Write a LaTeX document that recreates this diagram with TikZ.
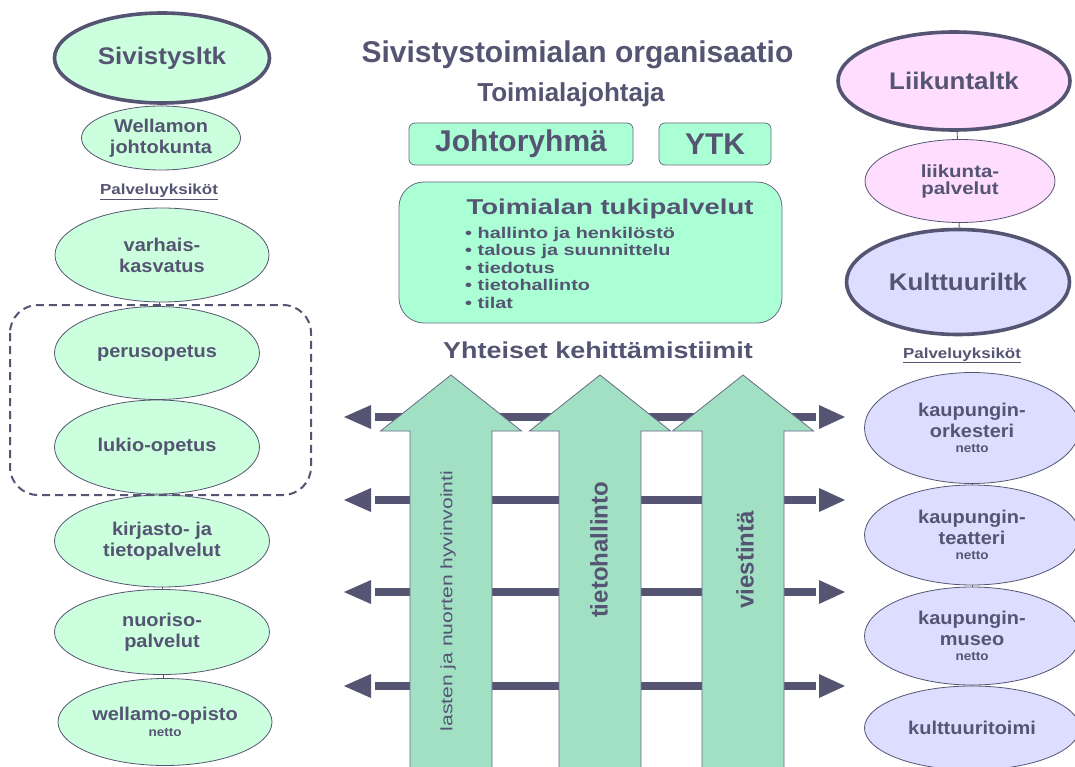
\documentclass[tikz,border=0pt]{standalone}
\usepackage{fontspec}
\setmainfont{Liberation Sans}
\newfontfamily\wideI{Liberation Sans}[FakeStretch=1.08]
\newfontfamily\wideII{Liberation Sans}[FakeStretch=1.17]
\newfontfamily\wideIII{Liberation Sans}[FakeStretch=1.28]
\usetikzlibrary{shapes.geometric,backgrounds}
\newcommand\setfs[2]{\fontsize{#1}{#2}\selectfont}

\definecolor{txt}{RGB}{85,85,115}
\definecolor{edge}{RGB}{85,85,115}
\definecolor{leftfill}{RGB}{204,255,221}
\definecolor{pinkfill}{RGB}{255,221,255}
\definecolor{lavfill}{RGB}{221,221,255}
\definecolor{boxfill}{RGB}{170,255,212}
\definecolor{arrowfill}{RGB}{162,224,196}
\definecolor{arrowedge}{RGB}{105,105,135}

\begin{document}
\begin{tikzpicture}[x=1pt,y=-1pt,
  every node/.style={text=txt, inner sep=0pt},
  ell/.style={ellipse, draw=edge, line width=0.8pt, align=center,
    font=\wideI\bfseries\setfs{18.5}{21}},
  headell/.style={ellipse, draw=edge, line width=3.6pt,
    font=\wideI\bfseries\setfs{24}{28}},
  grn/.style={fill=leftfill},
  pnk/.style={fill=pinkfill},
  lav/.style={fill=lavfill},
  box/.style={draw=arrowedge, line width=0.8pt, fill=boxfill, rounded corners=6pt},
  link/.style={draw=edge, line width=0.8pt},
  bar/.style={draw=edge, line width=8pt},
  tip/.style={fill=edge},
  blockarrow/.style={fill=arrowfill, draw=arrowedge, line width=0.8pt},
  unitlabel/.style={font=\wideII\bfseries\setfs{14.5}{17}},
  small/.style={font=\wideI\bfseries\setfs{12.5}{14}}
]
\useasboundingbox (0,0) rectangle (1075,767);
\clip (0,0) rectangle (1075,767);

% ---------- horizontal development-team arrows ----------
\foreach \y [count=\i] in {417,500,592,686} {
  \coordinate (hl\i) at (375,\y);
  \coordinate (hr\i) at (816,\y);
  \draw[bar] (hl\i) -- (hr\i);
  \fill[tip, shift={(hl\i)}] (-31,0) -- (-4,-12) -- (-4,12) -- cycle;
  \fill[tip, shift={(hr\i)}] (29,0) -- (3,-12) -- (3,12) -- cycle;
}

% ---------- vertical block arrows ----------
\foreach \cx in {451,600,743} {
  \filldraw[blockarrow] (\cx-41,780) -- (\cx-41,431) -- (\cx-70.5,431)
     -- (\cx,375) -- (\cx+70.5,431) -- (\cx+41,431) -- (\cx+41,780);
}
\node[rotate=90, font=\wideIII\setfs{16.5}{18}] (lasten) at (448,601) {lasten ja nuorten hyvinvointi};
\node[rotate=90, font=\bfseries\setfs{24}{26}] (tieto) at (599,550) {tietohallinto};
\node[rotate=90, font=\bfseries\setfs{24}{26}] (viest) at (745,560) {viestintä};

% ---------- centre headings and boxes ----------
\node[anchor=base, font=\bfseries\setfs{30}{34}] (title) at (577.5,63) {Sivistystoimialan organisaatio};
\node[anchor=base, font=\bfseries\setfs{26}{30}] (toim) at (571,102) {Toimialajohtaja};
\node[box, minimum width=224, minimum height=42, font=\bfseries\setfs{30}{34}] (johto) at (521,144) {Johtoryhmä};
\node[box, minimum width=112, minimum height=42, font=\bfseries\setfs{30}{34}] (ytk) at (715,144) {YTK};
\node[box, rounded corners=25pt, minimum width=383, minimum height=141] (tuki) at (590.5,252.5) {};
\node[anchor=base, font=\wideIII\bfseries\setfs{21.5}{24}] (tukititle) at (610,215) {Toimialan tukipalvelut};
\foreach \t [count=\k from 0] in {hallinto ja henkilöstö, talous ja suunnittelu, tiedotus, tietohallinto, tilat} {
  \node[anchor=base west, font=\wideIII\bfseries\setfs{15.5}{17}] (bullet\k) at (465,238+17.5*\k) {•\ \t};
}
\node[anchor=base, font=\wideII\bfseries\setfs{23}{26}] (yhte) at (598,358) {Yhteiset kehittämistiimit};

% ---------- left column ----------
\node[headell, grn, minimum width=215, minimum height=90] (sivi) at (162,58) {Sivistysltk};
\node[ell, grn, minimum width=159, minimum height=64] (well) at (161,138) {Wellamon\\johtokunta};
\node[anchor=base, unitlabel] (palvL) at (159,195) {\underline{Palveluyksiköt}};
\node[ell, grn, minimum width=214, minimum height=94] (varh) at (162,255) {varhais-\\kasvatus};
\node[ell, grn, minimum width=205, minimum height=93] (peru) at (157,353) {perusopetus};
\node[ell, grn, minimum width=205, minimum height=94] (luki) at (157,447) {lukio-opetus};
\node[ell, grn, minimum width=215, minimum height=92] (kirj) at (162,541) {kirjasto- ja\\tietopalvelut};
\node[ell, grn, minimum width=215, minimum height=85] (nuor) at (162,632) {nuoriso-\\palvelut};
\node[ell, grn, minimum width=214, minimum height=87] (wopi) at (165,722) {wellamo-opisto\\[-5pt]{\setfs{12.5}{14}netto}};
\draw[edge, line width=2pt, dash pattern=on 8pt off 5pt, rounded corners=28pt]
  (10,305) rectangle (311,495);

% ---------- right column ----------
\node[headell, pnk, minimum width=232, minimum height=98] (liik) at (954,81) {Liikuntaltk};
\node[ell, pnk, minimum width=190, minimum height=83, font=\wideII\bfseries\setfs{17.5}{17}] (lpal) at (960,181) {liikunta-\\palvelut};
\node[headell, lav, minimum width=223, minimum height=105] (kult) at (958,282) {Kulttuuriltk};
\node[anchor=base, unitlabel] (palvR) at (962,358) {\underline{Palveluyksiköt}};
\node[ell, lav, minimum width=215, minimum height=111] (ork) at (972,428) {kaupungin-\\orkesteri\\[-6pt]{\setfs{12.5}{14}netto}};
\node[ell, lav, minimum width=215, minimum height=100] (teat) at (972,535) {kaupungin-\\teatteri\\[-6pt]{\setfs{12.5}{14}netto}};
\node[ell, lav, minimum width=215, minimum height=98] (muse) at (972,636) {kaupungin-\\museo\\[-6pt]{\setfs{12.5}{14}netto}};
\node[ell, lav, minimum width=215, minimum height=84] (ktoi) at (972,728) {kulttuuritoimi};

% ---------- links between stacked units (behind the ellipses) ----------
\begin{pgfonlayer}{background}
  \fill[white] (0,0) rectangle (1075,767);
  \draw[link] (sivi) -- (well);
  \draw[link] (varh) -- (peru);
  \draw[link] (peru) -- (luki);
  \draw[link] (luki) -- (kirj);
  \draw[link] (kirj) -- (nuor);
  \draw[link] (nuor) -- (wopi);
  \draw[link] (liik) -- (lpal);
  \draw[link] (lpal) -- (kult);
  \draw[link] (ork) -- (teat);
  \draw[link] (teat) -- (muse);
  \draw[link] (muse) -- (ktoi);
\end{pgfonlayer}
\end{tikzpicture}
\end{document}
